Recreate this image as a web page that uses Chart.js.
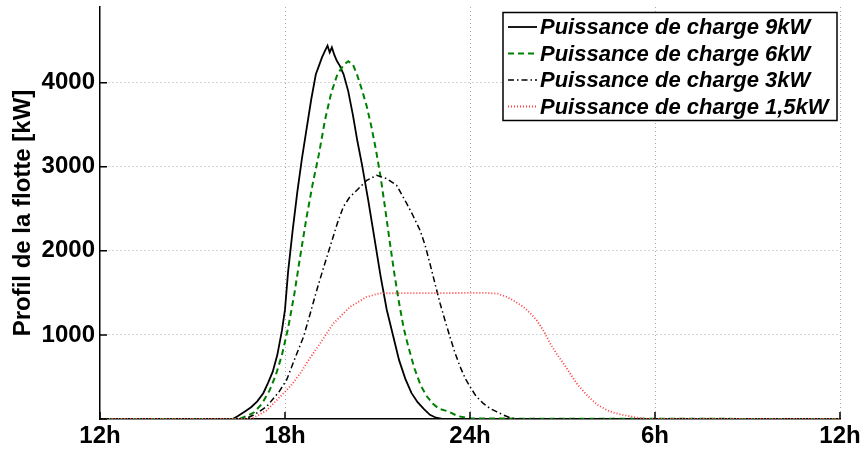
<!DOCTYPE html>
<html lang="fr">
<head>
<meta charset="UTF-8">
<title>Profil de la flotte</title>
<script src="https://cdn.jsdelivr.net/npm/chart.js@4.4.1/dist/chart.umd.min.js"></script>
<style>
  html, body { margin: 0; padding: 0; background: #fff; }
  #wrap { width: 867px; height: 455px; }
</style>
</head>
<body>
<div id="wrap"><canvas id="myChart" width="867" height="455"></canvas></div>
<script>
// axe des x en heures (12h -> 12h le lendemain = 12 -> 36)
var xTickHours  = [12, 18, 24, 30, 36];
var xTickLabels = ['12h', '18h', '24h', '6h', '12h'];
var yTicks      = [0, 1000, 2000, 3000, 4000];

var seriesNames = ['Puissance de charge 9kW', 'Puissance de charge 6kW',
                   'Puissance de charge 3kW', 'Puissance de charge 1,5kW'];

// 9kW
var t9 = [12, 16.3, 16.45, 16.7, 16.9, 17.1, 17.3, 17.45, 17.6, 17.75, 17.9, 18.0, 18.1, 18.25, 18.4, 18.55, 18.7, 18.85, 19.0, 19.1, 19.2, 19.3, 19.38, 19.45, 19.52, 19.6, 19.68, 19.78, 19.9, 20.05, 20.2, 20.35, 20.5, 20.7, 20.9, 21.1, 21.3, 21.5, 21.7, 21.9, 22.1, 22.3, 22.5, 22.7, 22.9, 23.1, 36];
var p9 = [0, 0, 30, 90, 140, 210, 310, 430, 560, 760, 1050, 1300, 1750, 2250, 2700, 3100, 3450, 3800, 4100, 4200, 4300, 4380, 4440, 4360, 4420, 4330, 4260, 4200, 4100, 3900, 3620, 3300, 3020, 2600, 2150, 1700, 1300, 1000, 700, 480, 310, 200, 120, 50, 15, 0, 0];

// 6kW
var t6 = [12, 16.5, 16.8, 17.0, 17.25, 17.5, 17.7, 17.9, 18.1, 18.3, 18.5, 18.7, 18.9, 19.1, 19.3, 19.5, 19.7, 19.9, 20.05, 20.2, 20.35, 20.5, 20.65, 20.8, 20.95, 21.1, 21.25, 21.4, 21.55, 21.7, 21.85, 22.0, 22.2, 22.4, 22.6, 22.8, 23.0, 23.3, 23.6, 24.0, 36];
var p6 = [0, 0, 40, 80, 180, 340, 520, 760, 1080, 1480, 1950, 2400, 2800, 3150, 3560, 3880, 4100, 4210, 4255, 4220, 4080, 3910, 3720, 3480, 3200, 2880, 2500, 2100, 1720, 1380, 1080, 860, 600, 400, 270, 180, 120, 90, 35, 5, 0];

// 3kW
var t3 = [12, 16.7, 17.0, 17.4, 17.8, 18.05, 18.3, 18.6, 18.8, 19.03, 19.25, 19.46, 19.7, 19.89, 20.1, 20.33, 20.65, 20.97, 21.3, 21.62, 21.95, 22.15, 22.38, 22.55, 22.7, 22.9, 23.03, 23.2, 23.35, 23.5, 23.68, 23.85, 24.0, 24.2, 24.43, 24.65, 24.86, 25.08, 25.3, 25.5, 36];
var p3 = [0, 0, 50, 146, 320, 463, 700, 977, 1230, 1532, 1800, 2047, 2330, 2522, 2640, 2720, 2838, 2898, 2858, 2779, 2561, 2420, 2245, 2060, 1849, 1560, 1374, 1160, 977, 800, 621, 480, 384, 270, 186, 125, 87, 48, 15, 0, 0];

// 1,5kW
var t15 = [12, 16.9, 17.4, 17.84, 18.2, 18.49, 18.8, 19.14, 19.57, 20.11, 20.65, 21.08, 24.54, 24.9, 25.19, 25.45, 25.73, 25.95, 26.16, 26.4, 26.6, 26.8, 27.03, 27.25, 27.46, 27.7, 27.9, 28.15, 28.43, 28.7, 28.97, 29.5, 29.8, 36];
var p15 = [0, 0, 100, 265, 400, 542, 720, 899, 1137, 1334, 1453, 1495, 1500, 1490, 1453, 1400, 1334, 1260, 1176, 1040, 899, 780, 662, 540, 423, 320, 245, 165, 107, 70, 48, 10, 0, 0];

function pts(t, p) {
  var out = [];
  for (var i = 0; i < t.length; i++) out.push({x: t[i], y: p[i]});
  return out;
}

var FONT = '"Liberation Sans", Arial, sans-serif';

// petites graduations vers l'interieur + legende encadree
var extras = {
  id: 'extras',
  afterDraw: function(chart) {
    var ctx = chart.ctx, a = chart.chartArea;
    var xs = chart.scales.x, ys = chart.scales.y;
    ctx.save();
    ctx.strokeStyle = '#000';
    ctx.lineWidth = 1.5;
    ctx.beginPath();
    xTickHours.forEach(function(h) {
      var px = xs.getPixelForValue(h);
      ctx.moveTo(px, a.bottom); ctx.lineTo(px, a.bottom - 7);
    });
    yTicks.forEach(function(v) {
      var py = ys.getPixelForValue(v);
      ctx.moveTo(a.left, py); ctx.lineTo(a.left + 7, py);
    });
    ctx.stroke();

    // legende
    var bx = 503, by = 12.5, bw = 334, bh = 108;
    ctx.fillStyle = '#fff';
    ctx.fillRect(bx, by, bw, bh);
    ctx.lineWidth = 1.5;
    ctx.strokeStyle = '#000';
    ctx.strokeRect(bx, by, bw, bh);
    ctx.font = 'italic bold 22px ' + FONT;
    ctx.textBaseline = 'middle';
    chart.data.datasets.forEach(function(ds, i) {
      var yy = by + 14.5 + i * 26.5;
      ctx.beginPath();
      ctx.setLineDash(ds.borderDash || []);
      ctx.strokeStyle = ds.borderColor;
      ctx.lineWidth = ds.borderWidth;
      ctx.moveTo(bx + 5, yy); ctx.lineTo(bx + 34, yy);
      ctx.stroke();
      ctx.setLineDash([]);
      ctx.fillStyle = '#000';
      ctx.fillText(ds.label, bx + 37, yy + 1);
    });
    ctx.restore();
  }
};

var ctx = document.getElementById('myChart').getContext('2d');
var myChart = new Chart(ctx, {
  type: 'line',
  data: {
    datasets: [
      { label: seriesNames[0], data: pts(t9, p9), borderColor: '#000000', borderWidth: 1.8, borderDash: [], order: 3 },
      { label: seriesNames[1], data: pts(t6, p6), borderColor: '#008000', borderWidth: 2, borderDash: [6, 4], order: 2 },
      { label: seriesNames[2], data: pts(t3, p3), borderColor: '#000000', borderWidth: 1.5, borderDash: [6, 3, 1.5, 3], order: 1 },
      { label: seriesNames[3], data: pts(t15, p15), borderColor: '#ff3b3b', borderWidth: 1.8, borderDash: [1, 2], order: 0 }
    ]
  },
  options: {
    responsive: false,
    animation: false,
    layout: { padding: { top: 7, right: 27, left: 0, bottom: 0 } },
    elements: { point: { radius: 0 }, line: { tension: 0, fill: false } },
    plugins: { legend: { display: false }, tooltip: { enabled: false } },
    scales: {
      x: {
        type: 'linear',
        min: 12, max: 36,
        afterBuildTicks: function(s) { s.ticks = xTickHours.map(function(v) { return {value: v}; }); },
        afterFit: function(s) { s.height = 36; s.paddingLeft = 0; s.paddingRight = 0; },
        ticks: {
          color: '#000',
          font: { family: FONT, size: 24, weight: 'bold' },
          padding: 3,
          maxRotation: 0,
          callback: function(v) { return xTickLabels[xTickHours.indexOf(v)]; }
        },
        grid: {
          drawTicks: false,
          color: function(c) { return c.tick && c.tick.value === 12 ? 'rgba(0,0,0,0)' : '#a8a8a8'; },
          lineWidth: 1
        },
        border: { display: true, color: '#000', width: 1.5, dash: [1, 3] }
      },
      y: {
        type: 'linear',
        min: 0, max: 4900,
        afterBuildTicks: function(s) { s.ticks = yTicks.map(function(v) { return {value: v}; }); },
        afterFit: function(s) { s.width = 100; s.paddingTop = 0; s.paddingBottom = 0; },
        ticks: {
          color: '#000',
          font: { family: FONT, size: 24, weight: 'bold' },
          padding: 5,
          callback: function(v) { return v === 0 ? '' : String(v); }
        },
        grid: {
          drawTicks: false,
          color: function(c) { return c.tick && c.tick.value === 0 ? 'rgba(0,0,0,0)' : '#a8a8a8'; },
          lineWidth: 1
        },
        border: { display: true, color: '#000', width: 1.5, dash: [1, 3] },
        title: {
          display: true,
          text: 'Profil de la flotte [kW]',
          color: '#000',
          font: { family: FONT, size: 24, weight: 'bold' },
          padding: { top: 9, bottom: 0 }
        }
      }
    }
  },
  plugins: [extras]
});
</script>
</body>
</html>
